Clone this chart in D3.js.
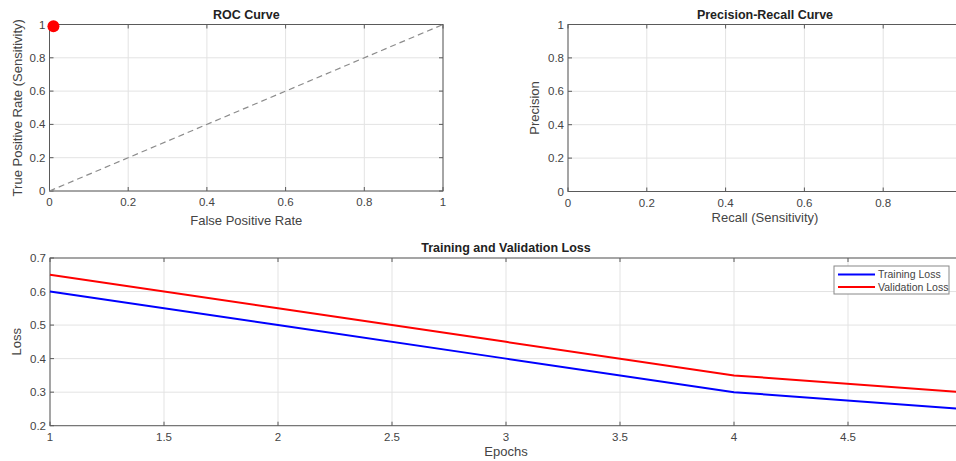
<!DOCTYPE html>
<html>
<head>
<meta charset="utf-8">
<script src="https://cdn.jsdelivr.net/npm/d3@7"></script>
<style>
  body { margin: 0; background: #fff; }
  svg { font-family: "Liberation Sans", Arial, sans-serif; }
</style>
</head>
<body>
<div id="frame"></div>
<script>
// data
const rocPoint = [{ fpr: 0.01, tpr: 0.99 }]
const diagonal = [[0, 0], [1, 1]]
const unitTicks = [0, 0.2, 0.4, 0.6, 0.8, 1]
const epochs = [1, 2, 3, 4, 5]
const trainLoss = [0.6, 0.5, 0.4, 0.3, 0.25]
const valLoss = [0.65, 0.55, 0.45, 0.35, 0.3]
const epochTicks = [1, 1.5, 2, 2.5, 3, 3.5, 4, 4.5, 5]
const lossTicks = [0.2, 0.3, 0.4, 0.5, 0.6, 0.7]

const width = 956, height = 461
const svg = d3.select("#frame").append("svg")
  .attr("width", width).attr("height", height)

const axisColor = "#5a5a5a"
const textColor = "#444"

// draws MATLAB-like box axes with grid and inward ticks
function panel(box, x, y, xt, yt, opts) {
  const g = svg.append("g")
  const [l, t, r, b] = box
  // grid
  g.selectAll(".gx").data(xt).enter().append("line")
    .attr("x1", d => x(d)).attr("x2", d => x(d))
    .attr("y1", t).attr("y2", b)
    .attr("stroke", "#e3e3e3").attr("stroke-width", 1)
  g.selectAll(".gy").data(yt).enter().append("line")
    .attr("x1", l).attr("x2", r)
    .attr("y1", d => y(d)).attr("y2", d => y(d))
    .attr("stroke", "#e3e3e3").attr("stroke-width", 1)
  // box
  g.append("rect").attr("x", l).attr("y", t)
    .attr("width", r - l).attr("height", b - t)
    .attr("fill", "none").attr("stroke", axisColor).attr("stroke-width", 1)
  // inward ticks
  const tk = 4
  xt.forEach(d => {
    g.append("line").attr("x1", x(d)).attr("x2", x(d)).attr("y1", b).attr("y2", b - tk).attr("stroke", axisColor)
    g.append("line").attr("x1", x(d)).attr("x2", x(d)).attr("y1", t).attr("y2", t + tk).attr("stroke", axisColor)
  })
  yt.forEach(d => {
    g.append("line").attr("x1", l).attr("x2", l + tk).attr("y1", y(d)).attr("y2", y(d)).attr("stroke", axisColor)
    g.append("line").attr("x1", r).attr("x2", r - tk).attr("y1", y(d)).attr("y2", y(d)).attr("stroke", axisColor)
  })
  // tick labels (the figure is cropped at the right edge, so skip labels past it)
  g.selectAll(".lx").data(xt.filter(d => x(d) < width - 4)).enter().append("text")
    .attr("x", d => x(d)).attr("y", b + 15)
    .attr("text-anchor", "middle").attr("font-size", "11.5px").attr("fill", textColor)
    .text(d => d3.format("~g")(d))
  g.selectAll(".ly").data(yt).enter().append("text")
    .attr("x", l - 4).attr("y", d => y(d) + 4)
    .attr("text-anchor", "end").attr("font-size", "11.5px").attr("fill", textColor)
    .text(d => d3.format("~g")(d))
  // title and labels
  g.append("text").attr("x", (l + r) / 2).attr("y", t - 6)
    .attr("text-anchor", "middle").attr("font-size", "12.5px").attr("font-weight", "bold")
    .attr("fill", "#222").text(opts.title)
  g.append("text").attr("x", (l + r) / 2).attr("y", b + opts.xlabDy)
    .attr("text-anchor", "middle").attr("font-size", "13px").attr("fill", textColor)
    .text(opts.xlabel)
  g.append("text")
    .attr("transform", "translate(" + (l + opts.ylabDx) + "," + ((t + b) / 2) + ") rotate(-90)")
    .attr("text-anchor", "middle").attr("font-size", "13px").attr("fill", textColor)
    .text(opts.ylabel)
  return g
}

// ROC
const rocX = d3.scaleLinear().domain([0, 1]).range([49.5, 443])
const rocY = d3.scaleLinear().domain([0, 1]).range([191, 24.5])
const roc = panel([49.5, 24.5, 443, 191], rocX, rocY, unitTicks, unitTicks,
  { title: "ROC Curve", xlabel: "False Positive Rate", ylabel: "True Positive Rate (Sensitivity)", xlabDy: 34, ylabDx: -28 })
roc.append("path").datum(diagonal)
  .attr("d", d3.line().x(d => rocX(d[0])).y(d => rocY(d[1])))
  .attr("fill", "none").attr("stroke", "#8c8c8c").attr("stroke-width", 1.2)
  .attr("stroke-dasharray", "6,4")
roc.selectAll(".pt").data(rocPoint).enter().append("circle")
  .attr("cx", d => rocX(d.fpr)).attr("cy", d => rocY(d.tpr)).attr("r", 6)
  .attr("fill", "#f00")

// Precision-Recall
const prX = d3.scaleLinear().domain([0, 1]).range([568, 962])
const prY = d3.scaleLinear().domain([0, 1]).range([191.5, 24.5])
panel([568, 24.5, 962, 191.5], prX, prY, unitTicks, unitTicks,
  { title: "Precision-Recall Curve", xlabel: "Recall (Sensitivity)", ylabel: "Precision", xlabDy: 30, ylabDx: -29 })

// Loss
const lx = d3.scaleLinear().domain([1, 5]).range([50, 962])
const ly = d3.scaleLinear().domain([0.2, 0.7]).range([425.7, 258])
const loss = panel([50, 258, 962, 425.7], lx, ly, epochTicks, lossTicks,
  { title: "Training and Validation Loss", xlabel: "Epochs", ylabel: "Loss", xlabDy: 30, ylabDx: -29 })
const series = [
  { name: "Training Loss", values: trainLoss, color: "#0000ff" },
  { name: "Validation Loss", values: valLoss, color: "#ff0000" }
]
const line = d3.line().x((d, i) => lx(epochs[i])).y(d => ly(d))
series.forEach(s => {
  loss.append("path").datum(s.values).attr("d", line)
    .attr("fill", "none").attr("stroke", s.color).attr("stroke-width", 2)
})

// legend
const leg = svg.append("g").attr("transform", "translate(834,266)")
leg.append("rect").attr("width", 115).attr("height", 28)
  .attr("fill", "#fff").attr("stroke", "#888").attr("stroke-width", 1)
series.forEach((s, i) => {
  const yy = 8.5 + i * 12.5
  leg.append("line").attr("x1", 4).attr("x2", 41).attr("y1", yy).attr("y2", yy)
    .attr("stroke", s.color).attr("stroke-width", 2)
  leg.append("text").attr("x", 44).attr("y", yy + 3.5)
    .attr("font-size", "10.5px").attr("fill", textColor).text(s.name)
})
</script>
</body>
</html>
